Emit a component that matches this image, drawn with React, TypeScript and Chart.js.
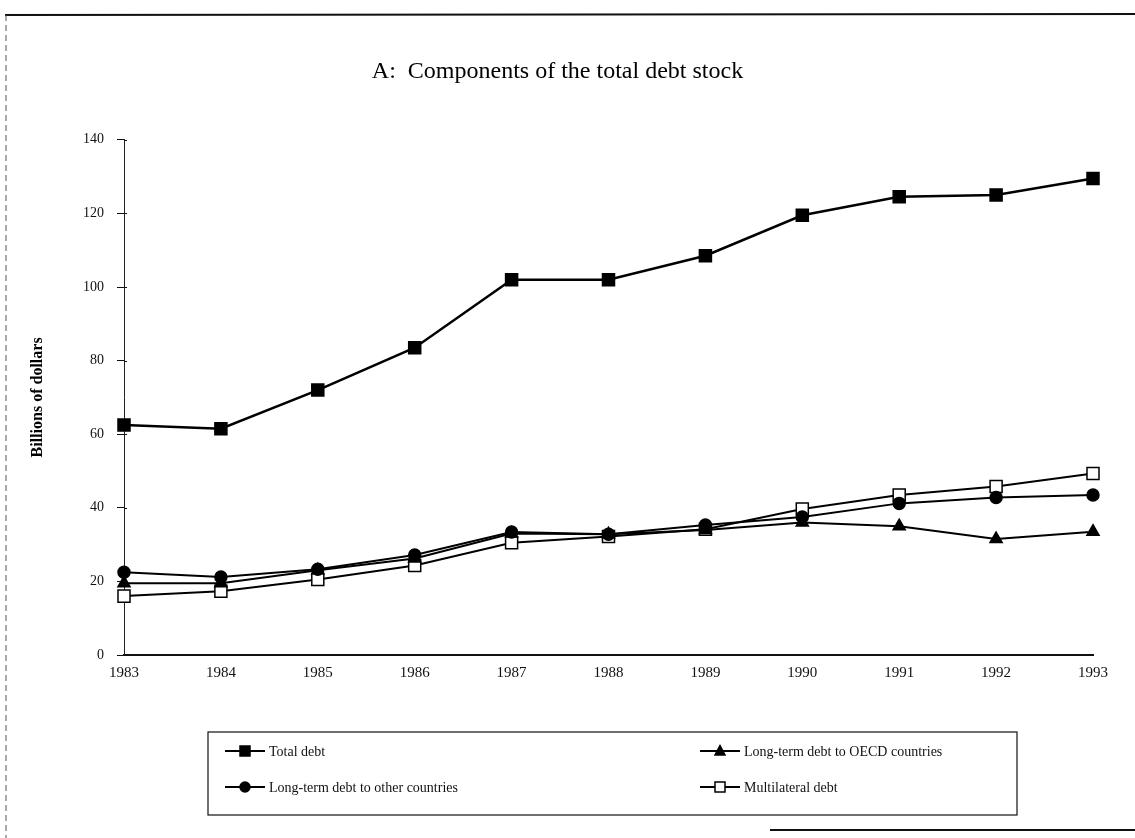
import React, { useEffect, useRef } from 'react';
import { Chart, registerables } from 'chart.js';

Chart.register(...registerables);

const years = ['1983', '1984', '1985', '1986', '1987', '1988', '1989', '1990', '1991', '1992', '1993'];
const totalDebt = [62.5, 61.5, 72, 83.5, 102, 102, 108.5, 119.5, 124.5, 125, 129.5];
const oecdDebt = [19.5, 19.5, 23, 26.2, 33, 32.8, 34, 36, 35, 31.5, 33.5];
const otherDebt = [22.5, 21.2, 23.3, 27.2, 33.4, 32.8, 35.3, 37.5, 41.2, 42.8, 43.5];
const multilateralDebt = [16, 17.3, 20.5, 24.3, 30.5, 32.2, 34.2, 39.7, 43.5, 45.8, 49.3];
const yMin = 0;
const yMax = 140;
const yStep = 20;
const seriesLabels = [
  'Total debt',
  'Long-term debt to OECD countries',
  'Long-term debt to other countries',
  'Multilateral debt',
];
const titleText = 'A:  Components of the total debt stock';
const yAxisTitle = 'Billions of dollars';

const SERIF = '"Liberation Serif", "DejaVu Serif", serif';

function drawMarker(ctx: CanvasRenderingContext2D, style: string, x: number, y: number, r: number, fill: string) {
  ctx.save();
  ctx.fillStyle = fill;
  ctx.strokeStyle = '#000';
  ctx.lineWidth = 1.5;
  ctx.beginPath();
  if (style === 'rect') {
    ctx.rect(x - r, y - r, 2 * r, 2 * r);
  } else if (style === 'triangle') {
    ctx.moveTo(x, y - r * 1.1);
    ctx.lineTo(x + r, y + r * 0.8);
    ctx.lineTo(x - r, y + r * 0.8);
    ctx.closePath();
  } else {
    ctx.arc(x, y, r, 0, Math.PI * 2);
  }
  ctx.fill();
  ctx.stroke();
  ctx.restore();
}

const framePlugin = {
  id: 'frame',
  beforeDraw(chart: any) {
    const { ctx, width, height } = chart;
    ctx.save();
    ctx.strokeStyle = '#111';
    ctx.lineWidth = 2;
    ctx.beginPath();
    ctx.moveTo(5, 15);
    ctx.lineTo(width, 14);
    ctx.stroke();
    ctx.lineWidth = 1;
    ctx.strokeStyle = '#555';
    ctx.setLineDash([6, 4]);
    ctx.beginPath();
    ctx.moveTo(6, 15);
    ctx.lineTo(6, height);
    ctx.stroke();
    ctx.setLineDash([]);
    ctx.lineWidth = 2;
    ctx.strokeStyle = '#111';
    ctx.beginPath();
    ctx.moveTo(770, height - 8);
    ctx.lineTo(width, height - 8);
    ctx.stroke();
    ctx.restore();
  },
  afterDatasetsDraw(chart: any) {
    const { ctx, scales } = chart;
    const ys = scales.y;
    ctx.save();
    ctx.strokeStyle = '#111';
    ctx.lineWidth = 1;
    ys.ticks.forEach((t: any) => {
      const py = Math.round(ys.getPixelForValue(t.value)) + 0.5;
      ctx.beginPath();
      ctx.moveTo(chart.chartArea.left, py);
      ctx.lineTo(chart.chartArea.left + 3, py);
      ctx.stroke();
    });
    ctx.restore();
  },
};

const legendPlugin = {
  id: 'boxLegend',
  afterDraw(chart: any) {
    const { ctx } = chart;
    const box = { x: 208, y: 732, w: 809, h: 83 };
    ctx.save();
    ctx.strokeStyle = '#111';
    ctx.lineWidth = 1.2;
    ctx.strokeRect(box.x, box.y, box.w, box.h);
    const cols = [225, 700];
    const rows = [751, 787];
    ctx.font = `14px ${SERIF}`;
    ctx.textBaseline = 'middle';
    chart.data.datasets.forEach((ds: any, i: number) => {
      const cx = cols[i % 2];
      const cy = rows[Math.floor(i / 2)];
      ctx.strokeStyle = '#000';
      ctx.lineWidth = 2;
      ctx.beginPath();
      ctx.moveTo(cx, cy);
      ctx.lineTo(cx + 40, cy);
      ctx.stroke();
      drawMarker(ctx, ds.pointStyle, cx + 20, cy, 5, ds.pointBackgroundColor);
      ctx.fillStyle = '#111';
      ctx.textAlign = 'left';
      ctx.fillText(ds.label, cx + 44, cy + 1);
    });
    ctx.restore();
  },
};

export default function App() {
  const canvasRef = useRef<HTMLCanvasElement | null>(null);

  useEffect(() => {
    document.body.style.margin = '0';
    const canvas = canvasRef.current;
    if (!canvas) return;
    const mk = (label: string, data: number[], pointStyle: string, fill: string, width: number, radius: number) => ({
      label,
      data,
      borderColor: '#000',
      borderWidth: width,
      pointStyle,
      pointRadius: radius,
      pointBackgroundColor: fill,
      pointBorderColor: '#000',
      pointBorderWidth: 1.5,
      tension: 0,
      fill: false,
    });
    const chart = new Chart(canvas, {
      type: 'line',
      data: {
        labels: years,
        datasets: [
          mk(seriesLabels[0], totalDebt, 'rect', '#000', 2.5, 8.5),
          mk(seriesLabels[1], oecdDebt, 'triangle', '#000', 2, 7),
          mk(seriesLabels[2], otherDebt, 'circle', '#000', 2, 6),
          mk(seriesLabels[3], multilateralDebt, 'rect', '#fff', 2, 8.5),
        ],
      },
      options: {
        responsive: false,
        animation: false,
        layout: { padding: { left: 22, right: 42, top: 0, bottom: 153 } },
        plugins: {
          legend: { display: false },
          tooltip: { enabled: false },
          title: {
            display: true,
            text: titleText,
            color: '#000',
            font: { family: SERIF, size: 24, weight: 'normal' },
            padding: { top: 57, bottom: 54 },
          },
        },
        scales: {
          x: {
            type: 'category',
            offset: false,
            grid: { display: true, drawOnChartArea: false, drawTicks: false },
            border: { display: true, color: '#111', width: 2 },
            ticks: { color: '#111', font: { family: SERIF, size: 15 }, padding: 9, maxRotation: 0, autoSkip: false },
            afterFit: (s: any) => { s.height = 30; },
          },
          y: {
            min: yMin,
            max: yMax,
            grid: { display: true, drawOnChartArea: false, drawTicks: true, tickLength: 7, color: '#111' },
            border: { display: true, color: '#222', width: 1, dash: [5, 3] },
            ticks: { stepSize: yStep, color: '#111', font: { family: SERIF, size: 14 }, padding: 13 },
            title: {
              display: true,
              text: yAxisTitle,
              color: '#000',
              font: { family: SERIF, size: 16, weight: 'bold' },
              padding: { top: 6, bottom: 0 },
            },
            afterFit: (s: any) => { s.width = 102; },
          },
        },
      },
      plugins: [framePlugin, legendPlugin],
    } as any);
    return () => chart.destroy();
  }, []);

  return (
    <div style={{ width: 1135, height: 838 }}>
      <canvas ref={canvasRef} width={1135} height={838} style={{ display: 'block' }} />
    </div>
  );
}
